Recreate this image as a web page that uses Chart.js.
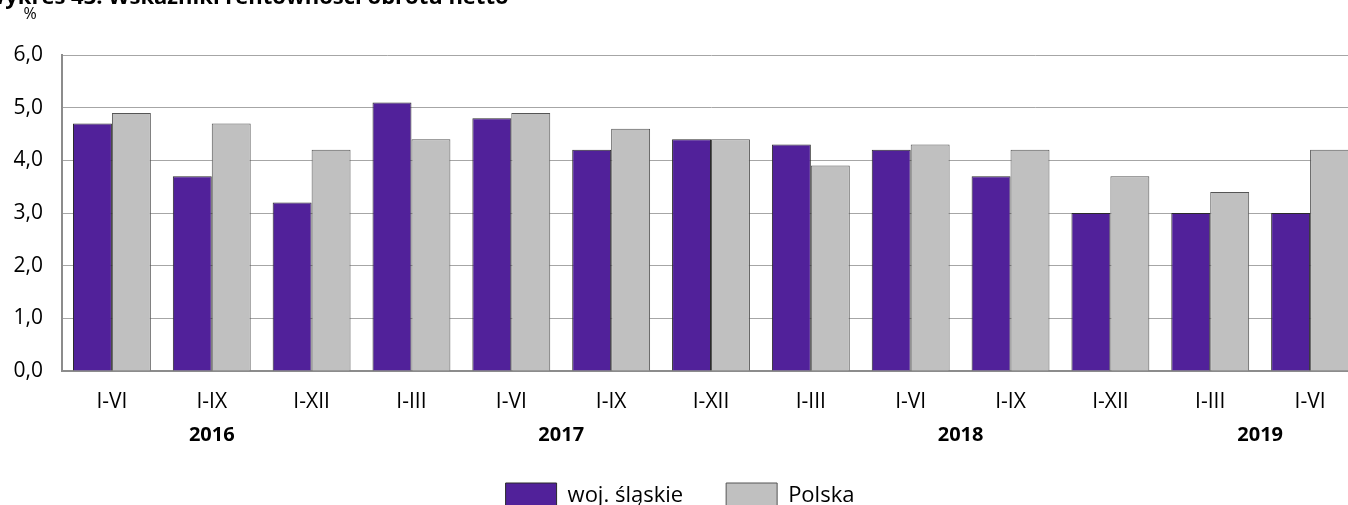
<!DOCTYPE html>
<html>
<head>
<meta charset="utf-8">
<script src="https://cdn.jsdelivr.net/npm/chart.js@4.4.0/dist/chart.umd.min.js"></script>
<style>
  html, body { margin: 0; padding: 0; overflow: hidden; background: #fff; }
  #wrap { position: absolute; left: 0; top: 0; width: 1360px; height: 519px; }
</style>
</head>
<body>
<div id="wrap"><canvas id="chart"></canvas></div>
<script>
const periods = ['I-VI', 'I-IX', 'I-XII', 'I-III', 'I-VI', 'I-IX', 'I-XII', 'I-III', 'I-VI', 'I-IX', 'I-XII', 'I-III', 'I-VI'];
const years = ['2016', '2017', '2018', '2019'];
const yearSpans = [3, 4, 4, 2];
const slaskie = [4.7, 3.7, 3.2, 5.1, 4.8, 4.2, 4.4, 4.3, 4.2, 3.7, 3.0, 3.0, 3.0];
const polska = [4.9, 4.7, 4.2, 4.4, 4.9, 4.6, 4.4, 3.9, 4.3, 4.2, 3.7, 3.4, 4.2];

const FONT = "'Open Sans', 'Noto Sans', sans-serif";

// year labels under the period ticks, plus the % unit and the clipped title
const extraText = {
  id: 'extraText',
  afterDraw(chart) {
    const ctx = chart.ctx;
    const x = chart.scales.x;
    ctx.save();
    ctx.fillStyle = '#000';
    ctx.textAlign = 'center';
    ctx.textBaseline = 'middle';
    ctx.font = 'bold 20px ' + FONT;
    let start = 0;
    years.forEach((y, i) => {
      const end = start + yearSpans[i] - 1;
      const cx = (x.getPixelForValue(start) + x.getPixelForValue(end)) / 2;
      ctx.fillText(y, cx, 435);
      start += yearSpans[i];
    });
    ctx.font = '16px ' + FONT;
    ctx.fillText('%', 30, 14);
    ctx.textAlign = 'left';
    ctx.textBaseline = 'alphabetic';
    ctx.font = 'bold 22px ' + FONT;
    ctx.fillText('Wykres 43. Wskaźniki rentowności obrotu netto', -16, 4);
    ctx.restore();
  }
};

new Chart(document.getElementById('chart'), {
  type: 'bar',
  data: {
    labels: periods,
    datasets: [
      {
        label: 'woj. śląskie',
        data: slaskie,
        backgroundColor: '#51219a',
        borderColor: '#2b2b2b',
        borderWidth: 1
      },
      {
        label: 'Polska',
        data: polska,
        backgroundColor: '#c0c0c0',
        borderColor: '#555555',
        borderWidth: 1
      }
    ]
  },
  options: {
    responsive: true,
    maintainAspectRatio: false,
    animation: false,
    layout: { padding: { top: 55, left: 0, right: 0, bottom: 0 } },
    datasets: { bar: { categoryPercentage: 0.78, barPercentage: 1.0 } },
    scales: {
      x: {
        grid: { display: false, drawTicks: false },
        border: { color: '#8c8c8c', width: 2 },
        ticks: { color: '#000', font: { family: FONT, size: 21 }, padding: 18, maxRotation: 0 },
        afterFit(scale) { scale.height = 69; }
      },
      y: {
        min: 0,
        max: 6,
        grid: { color: '#a6a6a6', lineWidth: 1, drawTicks: false },
        border: { color: '#8c8c8c', width: 2 },
        ticks: {
          stepSize: 1,
          color: '#000',
          font: { family: FONT, size: 21 },
          padding: 19,
          callback: v => v.toFixed(1).replace('.', ',')
        },
        afterFit(scale) { scale.width = 62; }
      }
    },
    plugins: {
      legend: {
        position: 'bottom',
        labels: {
          color: '#000',
          font: { family: FONT, size: 22 },
          boxWidth: 51,
          boxHeight: 26,
          padding: 43
        }
      },
      tooltip: { enabled: false }
    }
  },
  plugins: [extraText]
});
</script>
</body>
</html>
